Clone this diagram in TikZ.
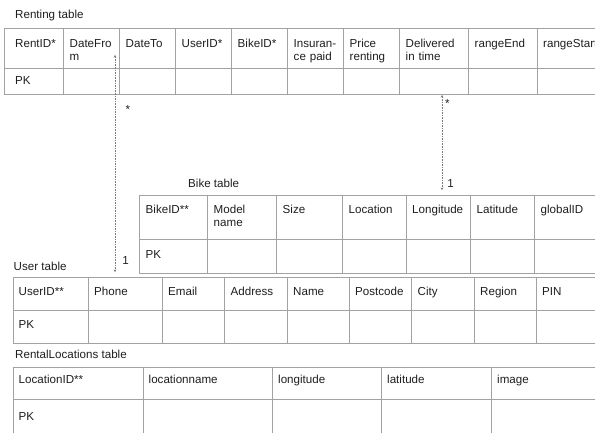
\documentclass[tikz,border=0pt]{standalone}
\usepackage{fontspec}
\setmainfont{Liberation Sans}
\usetikzlibrary{arrows.meta}
\definecolor{rulegray}{HTML}{A2A2A2}
\definecolor{ink}{HTML}{1E1E1E}
\definecolor{linkgray}{HTML}{7A7A7A}
\newcommand\tabfont{\fontsize{11.6}{13.2}\selectfont}
\begin{document}
\begin{tikzpicture}[x=1pt,y=-1pt,
  gridline/.style={draw=rulegray, line width=0.9pt},
  cell/.style={anchor=base west, inner sep=0pt, text=ink, font=\tabfont,
    align=left, text width=70pt},
  caption/.style={anchor=base west, inner sep=0pt, text=ink, font=\tabfont},
  card/.style={anchor=base, inner sep=0pt, text=ink, font=\tabfont},
  relation/.style={draw=linkgray, line width=0.8pt, dash pattern=on 1.6pt off 1pt,
    {Stealth[length=2.5pt,width=2.5pt]}-{Stealth[length=2.5pt,width=2.5pt]}}]
\useasboundingbox (0,0) rectangle (595,432);
\clip (0,0) rectangle (595,432);

% ---------- Renting table ----------
\node[caption] (rent-title) at (15,18) {Renting table};
\foreach \y in {28,68,94} \draw[gridline] (4,\y) -- (600,\y);
\foreach \x in {4,63,119,175,231,287,343,399,468,537} \draw[gridline] (\x,28) -- (\x,94);
\foreach \x/\lbl [count=\i] in {15/{RentID*\\*}, 69.5/{DateFro\\m}, 125.5/DateTo,
    181.5/UserID*, 237.5/BikeID*, 293.5/{Insuran-\\ce paid}, 349.5/{Price\\renting},
    405.5/{Delivered\\in time}, 474.5/rangeEnd, 543/rangeStart}
  \node[cell] (rent-h\i) at (\x,47.5) {\lbl};
\node[cell] (rent-pk) at (15,84) {PK};

% ---------- Bike table ----------
\node[caption] (bike-title) at (188,187.5) {Bike table};
\foreach \y in {195,239,273} \draw[gridline] (139,\y) -- (600,\y);
\foreach \x in {139,207,276,342,406,470,534} \draw[gridline] (\x,195) -- (\x,273);
\foreach \x/\lbl [count=\i] in {145.5/BikeID**, 213.5/{Model\\name}, 282.5/Size,
    348.5/Location, 412/Longitude, 476.5/Latitude, 540.5/globalID}
  \node[cell] (bike-h\i) at (\x,213) {\lbl};
\node[cell] (bike-pk) at (145.5,258) {PK};

% ---------- User table ----------
\node[caption] (user-title) at (13.5,270) {User table};
\foreach \y in {277,310,343} \draw[gridline] (13,\y) -- (600,\y);
\foreach \x in {13,88,162,224,287,349,411,474,536} \draw[gridline] (\x,277) -- (\x,343);
\foreach \x/\lbl [count=\i] in {18.5/UserID**, 94/Phone, 168/Email, 230.5/Address,
    293/Name, 355/Postcode, 417.5/City, 480/Region, 542/PIN}
  \node[cell] (user-h\i) at (\x,295) {\lbl};
\node[cell] (user-pk) at (18.5,328) {PK};

% ---------- RentalLocations table ----------
\node[caption] (loc-title) at (15,358) {RentalLocations table};
\foreach \y in {367,399} \draw[gridline] (13,\y) -- (600,\y);
\foreach \x in {13,143,272,381,491} \draw[gridline] (\x,367) -- (\x,440);
\foreach \x/\lbl [count=\i] in {18.5/LocationID**, 148.5/locationname, 278/longitude,
    387/latitude, 497/image}
  \node[cell] (loc-h\i) at (\x,383) {\lbl};
\node[cell] (loc-pk) at (18.5,420) {PK};

% ---------- relations ----------
\coordinate (rent-user-end) at (115,55);
\coordinate (user-rent-end) at (115,272);
\draw[relation] (rent-user-end) -- (user-rent-end);
\node[card] (rent-user-many) at (128,113) {*};
\node[card] (rent-user-one) at (125.5,264.5) {1};

\coordinate (rent-bike-end) at (442,95);
\coordinate (bike-rent-end) at (442,190);
\draw[relation] (rent-bike-end) -- (bike-rent-end);
\node[card] (rent-bike-many) at (447.5,107.5) {*};
\node[card] (rent-bike-one) at (450.5,187.5) {1};
\end{tikzpicture}
\end{document}
